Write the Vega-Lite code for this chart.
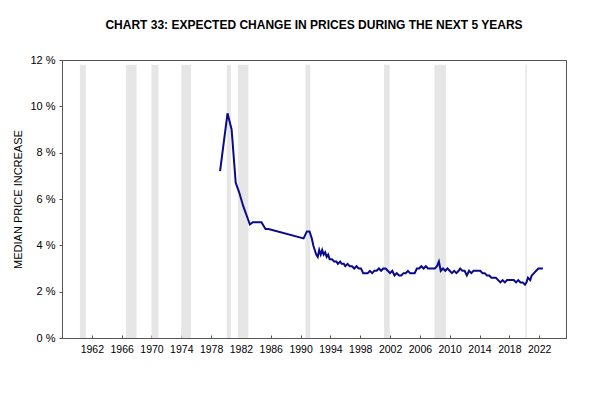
{
  "$schema": "https://vega.github.io/schema/vega-lite/v6.json",
  "width": 504,
  "height": 278,
  "autosize": "none",
  "padding": {"left": 62, "top": 60, "right": 34, "bottom": 58},
  "background": "white",
  "config": {
    "font": "Liberation Sans",
    "view": {"stroke": "#555555", "strokeWidth": 1},
    "axisX": {"labelOverlap": false, "labelBound": false, "labelFlush": false}
  },
  "title": {
    "text": "CHART 33: EXPECTED CHANGE IN PRICES DURING THE NEXT 5 YEARS",
    "anchor": "middle",
    "offset": 22,
    "fontSize": 12,
    "fontWeight": "bold",
    "font": "Liberation Sans",
    "color": "#000000"
  },
  "datasets": {
    "bands": [
      {"start": 1960.4, "end": 1961.2},
      {"start": 1966.6, "end": 1968.0},
      {"start": 1970.0, "end": 1970.95},
      {"start": 1974.0, "end": 1975.3},
      {"start": 1980.1, "end": 1980.65},
      {"start": 1981.6, "end": 1983.0},
      {"start": 1990.65, "end": 1991.3},
      {"start": 2001.2, "end": 2001.95},
      {"start": 2007.95, "end": 2009.5},
      {"start": 2020.15, "end": 2020.35}
    ],
    "series": [
      {"year": 1979.2, "value": 7.2},
      {"year": 1980.2, "value": 9.7},
      {"year": 1980.75, "value": 9.0},
      {"year": 1981.3, "value": 6.7},
      {"year": 1981.75, "value": 6.3},
      {"year": 1982.3, "value": 5.7},
      {"year": 1983.2, "value": 4.9},
      {"year": 1983.6, "value": 5.0},
      {"year": 1984.75, "value": 5.0},
      {"year": 1985.3, "value": 4.7},
      {"year": 1985.7, "value": 4.7},
      {"year": 1990.4, "value": 4.3},
      {"year": 1990.85, "value": 4.6},
      {"year": 1991.2, "value": 4.6},
      {"year": 1991.5, "value": 4.3},
      {"year": 1991.7, "value": 4.0},
      {"year": 1991.9, "value": 3.8},
      {"year": 1992.1, "value": 3.6},
      {"year": 1992.3, "value": 3.5},
      {"year": 1992.5, "value": 3.8},
      {"year": 1992.7, "value": 3.6},
      {"year": 1992.9, "value": 3.8},
      {"year": 1993.1, "value": 3.6},
      {"year": 1993.3, "value": 3.7},
      {"year": 1993.5, "value": 3.5},
      {"year": 1993.7, "value": 3.6},
      {"year": 1993.9, "value": 3.4},
      {"year": 1994.2, "value": 3.4},
      {"year": 1994.5, "value": 3.3},
      {"year": 1994.8, "value": 3.3},
      {"year": 1995.0, "value": 3.2},
      {"year": 1995.3, "value": 3.3},
      {"year": 1995.5, "value": 3.2},
      {"year": 1995.8, "value": 3.2},
      {"year": 1996.0, "value": 3.1},
      {"year": 1996.3, "value": 3.2},
      {"year": 1996.6, "value": 3.1},
      {"year": 1996.9, "value": 3.1},
      {"year": 1997.2, "value": 3.0},
      {"year": 1997.5, "value": 3.1},
      {"year": 1997.8, "value": 3.0},
      {"year": 1998.1, "value": 3.0},
      {"year": 1998.4, "value": 2.8},
      {"year": 1998.7, "value": 2.8},
      {"year": 1999.0, "value": 2.8},
      {"year": 1999.3, "value": 2.9},
      {"year": 1999.6, "value": 2.8},
      {"year": 1999.9, "value": 2.9},
      {"year": 2000.2, "value": 2.9},
      {"year": 2000.5, "value": 3.0},
      {"year": 2000.8, "value": 2.9},
      {"year": 2001.1, "value": 3.0},
      {"year": 2001.4, "value": 3.0},
      {"year": 2001.7, "value": 2.9},
      {"year": 2002.0, "value": 2.8},
      {"year": 2002.3, "value": 2.9},
      {"year": 2002.6, "value": 2.7},
      {"year": 2002.9, "value": 2.8},
      {"year": 2003.2, "value": 2.7},
      {"year": 2003.5, "value": 2.7},
      {"year": 2003.8, "value": 2.8},
      {"year": 2004.1, "value": 2.8},
      {"year": 2004.4, "value": 2.9},
      {"year": 2004.7, "value": 2.8},
      {"year": 2005.0, "value": 2.8},
      {"year": 2005.3, "value": 2.8},
      {"year": 2005.6, "value": 3.0},
      {"year": 2005.9, "value": 3.0},
      {"year": 2006.2, "value": 3.1},
      {"year": 2006.5, "value": 3.0},
      {"year": 2006.8, "value": 3.1},
      {"year": 2007.1, "value": 3.0},
      {"year": 2007.4, "value": 3.0},
      {"year": 2007.7, "value": 3.0},
      {"year": 2008.0, "value": 3.0},
      {"year": 2008.3, "value": 3.1},
      {"year": 2008.55, "value": 3.3},
      {"year": 2008.8, "value": 2.9},
      {"year": 2009.1, "value": 3.0},
      {"year": 2009.4, "value": 2.9},
      {"year": 2009.7, "value": 3.0},
      {"year": 2010.0, "value": 2.9},
      {"year": 2010.3, "value": 2.8},
      {"year": 2010.6, "value": 2.9},
      {"year": 2010.9, "value": 2.8},
      {"year": 2011.2, "value": 2.9},
      {"year": 2011.4, "value": 3.0},
      {"year": 2011.7, "value": 2.9},
      {"year": 2012.0, "value": 2.9},
      {"year": 2012.3, "value": 2.7},
      {"year": 2012.6, "value": 2.9},
      {"year": 2012.9, "value": 2.8},
      {"year": 2013.2, "value": 2.9},
      {"year": 2013.5, "value": 2.9},
      {"year": 2013.8, "value": 2.9},
      {"year": 2014.1, "value": 2.9},
      {"year": 2014.4, "value": 2.8},
      {"year": 2014.7, "value": 2.8},
      {"year": 2015.0, "value": 2.7},
      {"year": 2015.3, "value": 2.7},
      {"year": 2015.6, "value": 2.6},
      {"year": 2015.9, "value": 2.6},
      {"year": 2016.2, "value": 2.6},
      {"year": 2016.5, "value": 2.5},
      {"year": 2016.8, "value": 2.4},
      {"year": 2017.1, "value": 2.5},
      {"year": 2017.4, "value": 2.4},
      {"year": 2017.7, "value": 2.5},
      {"year": 2018.0, "value": 2.5},
      {"year": 2018.3, "value": 2.5},
      {"year": 2018.6, "value": 2.5},
      {"year": 2018.9, "value": 2.4},
      {"year": 2019.2, "value": 2.5},
      {"year": 2019.5, "value": 2.4},
      {"year": 2019.8, "value": 2.4},
      {"year": 2020.1, "value": 2.3},
      {"year": 2020.3, "value": 2.4},
      {"year": 2020.5, "value": 2.6},
      {"year": 2020.8, "value": 2.5},
      {"year": 2021.0, "value": 2.7},
      {"year": 2021.3, "value": 2.8},
      {"year": 2021.6, "value": 2.9},
      {"year": 2021.9, "value": 3.0},
      {"year": 2022.2, "value": 3.0},
      {"year": 2022.5, "value": 3.0}
    ]
  },
  "layer": [
    {
      "data": {"name": "bands"},
      "mark": {"type": "rect", "color": "#e6e6e6"},
      "encoding": {
        "x": {
          "field": "start", "type": "quantitative",
          "scale": {"domain": [1958, 2025.6], "nice": false, "zero": false},
          "axis": {
            "title": null,
            "values": [1962, 1966, 1970, 1974, 1978, 1982, 1986, 1990, 1994, 1998, 2002, 2006, 2010, 2014, 2018, 2022],
            "format": "d",
            "grid": false,
            "labelOverlap": false,
            "domainColor": "#555555",
            "tickColor": "#555555",
            "tickSize": -3,
            "labelPadding": 9,
            "labelFontSize": 10.5,
            "labelColor": "#000000",
            "labelFont": "Liberation Sans"
          }
        },
        "x2": {"field": "end"},
        "y": {"datum": 0, "type": "quantitative", "scale": {"domain": [0, 12], "nice": false}},
        "y2": {"datum": 11.8}
      }
    },
    {
      "data": {"name": "series"},
      "mark": {"type": "line", "color": "#0a0a8c", "strokeWidth": 2, "strokeJoin": "miter"},
      "encoding": {
        "x": {
          "field": "year", "type": "quantitative",
          "scale": {"domain": [1958, 2025.6], "nice": false, "zero": false},
          "axis": {
            "title": null,
            "values": [1962, 1966, 1970, 1974, 1978, 1982, 1986, 1990, 1994, 1998, 2002, 2006, 2010, 2014, 2018, 2022],
            "format": "d",
            "grid": false,
            "labelOverlap": false,
            "domainColor": "#555555",
            "tickColor": "#555555",
            "tickSize": -3,
            "labelPadding": 9,
            "labelFontSize": 10.5,
            "labelColor": "#000000",
            "labelFont": "Liberation Sans"
          }
        },
        "y": {
          "field": "value", "type": "quantitative",
          "scale": {"domain": [0, 12], "nice": false},
          "axis": {
            "title": "MEDIAN PRICE INCREASE",
            "titleFontSize": 11,
            "titleFontWeight": "normal",
            "titleColor": "#000000",
            "titleFont": "Liberation Sans",
            "titlePadding": 6,
            "values": [0, 2, 4, 6, 8, 10, 12],
            "labelExpr": "datum.value + ' %'",
            "grid": false,
            "domainColor": "#555555",
            "tickColor": "#555555",
            "tickSize": 3,
            "labelPadding": 4,
            "labelFontSize": 11,
            "labelColor": "#000000",
            "labelFont": "Liberation Sans"
          }
        }
      }
    }
  ]
}
